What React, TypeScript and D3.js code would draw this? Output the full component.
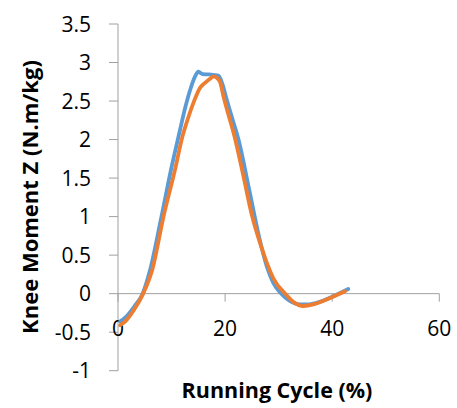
import React from "react";
import * as d3 from "d3";

const blueX = [0.4, 1.5, 3, 4.6, 6.0, 8, 9.9, 11.6, 12.5, 13.5, 14.4, 15, 15.8, 17, 18.75, 19.5, 20.3, 21.4, 22.5, 24.5, 26.4, 27.8, 29, 30.5, 32, 34, 35.5, 37.5, 40, 41.5, 43];
const blueY = [-0.36, -0.3, -0.17, 0, 0.31, 0.96, 1.61, 2.13, 2.4, 2.65, 2.82, 2.88, 2.85, 2.845, 2.83, 2.72, 2.52, 2.26, 2.0, 1.35, 0.72, 0.35, 0.14, 0.0, -0.09, -0.14, -0.14, -0.11, -0.04, 0.01, 0.06];
const orangeX = [0.4, 1.5, 3, 4.7, 6.4, 8.5, 10.65, 12, 13, 14.1, 15.3, 16.3, 17.2, 17.8, 18.5, 19.1, 19.7, 21.9, 23.5, 25, 26.7, 27.8, 29, 31.2, 32.8, 34.6, 36.5, 38.5, 40.5, 42.4];
const orangeY = [-0.41, -0.35, -0.21, 0, 0.31, 1.0, 1.61, 2.03, 2.26, 2.48, 2.67, 2.74, 2.79, 2.82, 2.8, 2.74, 2.56, 2.0, 1.5, 1.02, 0.62, 0.4, 0.2, 0, -0.11, -0.16, -0.14, -0.09, -0.03, 0.03];
const yTicks = [-1, -0.5, 0, 0.5, 1, 1.5, 2, 2.5, 3, 3.5];
const xTicks = [0, 20, 40, 60];

export default function App() {
  const x = d3.scaleLinear().domain([0, 60]).range([118, 439.3]);
  const y = d3.scaleLinear().domain([-1, 3.5]).range([370.7, 24]);
  const line = d3
    .line<[number, number]>()
    .x((d) => x(d[0]))
    .y((d) => y(d[1]))
    .curve(d3.curveMonotoneX);
  const blue = blueX.map((v, i) => [v, blueY[i]] as [number, number]);
  const orange = orangeX.map((v, i) => [v, orangeY[i]] as [number, number]);
  const axisColor = "#A0A0A0";
  const font = "'Open Sans', Lato, sans-serif";
  return (
    <svg width={457} height={408} style={{ position: "absolute", left: 0, top: 0, background: "#fff" }}>
      <rect x={0} y={0} width={457} height={408} fill="#fff" />
      <line x1={x(0)} x2={x(0)} y1={y(3.5)} y2={y(-1)} stroke={axisColor} strokeWidth={1} />
      {yTicks.map((t) => (
        <g key={"y" + t}>
          <line x1={x(0) - 9} x2={x(0)} y1={y(t)} y2={y(t)} stroke={axisColor} />
          <text x={91} y={y(t)} dy="0.36em" textAnchor="end" fontFamily={font} fontSize={21} fill="#000">
            {t}
          </text>
        </g>
      ))}
      <line x1={x(0)} x2={x(60)} y1={y(0)} y2={y(0)} stroke={axisColor} strokeWidth={1} />
      {xTicks.map((t) => (
        <g key={"x" + t}>
          <line x1={x(t)} x2={x(t)} y1={y(0)} y2={y(0) + 8} stroke={axisColor} />
          <text x={x(t)} y={328} dy="0.36em" textAnchor="middle" fontFamily={font} fontSize={21} fill="#000">
            {t}
          </text>
        </g>
      ))}
      <path d={line(blue) || ""} fill="none" stroke="#5B9BD5" strokeWidth={3.8} strokeLinejoin="round" strokeLinecap="round" />
      <path d={line(orange) || ""} fill="none" stroke="#ED7D31" strokeWidth={3.8} strokeLinejoin="round" strokeLinecap="round" />
      <text x={277} y={398} textAnchor="middle" fontFamily={font} fontSize={21.5} fontWeight="bold" fill="#000">
        Running Cycle (%)
      </text>
      <text
        transform={`translate(38,197) rotate(-90)`}
        textAnchor="middle"
        fontFamily={font}
        fontSize={22}
        fontWeight="bold"
        fill="#000"
      >
        Knee Moment Z (N.m/kg)
      </text>
    </svg>
  );
}
